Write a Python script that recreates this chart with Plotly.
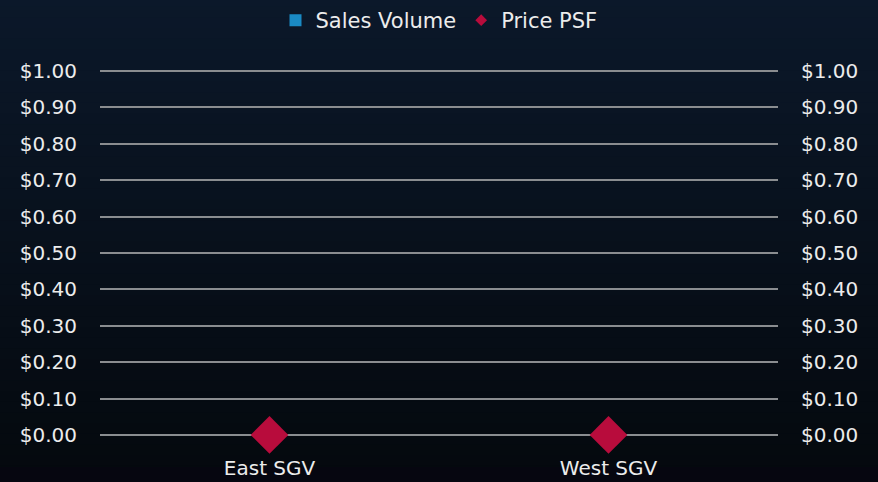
import plotly.graph_objects as go

categories = ["East SGV", "West SGV"]
sales_volume = [0, 0]
price_psf = [0, 0]
tick_vals = [0, 0.1, 0.2, 0.3, 0.4, 0.5, 0.6, 0.7, 0.8, 0.9, 1.0]
tick_text = ["$%.2f" % v for v in tick_vals]

FONT = "DejaVu Sans"
TXT = "#ececec"
RED = "#b80c3c"

fig = go.Figure()
fig.add_trace(go.Bar(x=categories, y=sales_volume, name="Sales Volume",
                     marker=dict(color="#1a8ac4", line=dict(width=0)), yaxis="y"))
fig.add_trace(go.Scatter(x=categories, y=price_psf, name="Price PSF", mode="markers",
                         marker=dict(symbol="diamond", size=29, color=RED),
                         cliponaxis=False, yaxis="y2", showlegend=False))
# legend entry with small diamond
fig.add_trace(go.Scatter(x=[None], y=[None], name="Price PSF", mode="markers",
                         marker=dict(symbol="diamond", size=9, color=RED), yaxis="y2"))

# background gradient via stacked strips
shapes = []
n = 48
top = (11, 24, 42)
bot = (4, 8, 12)
for i in range(n):
    t = i / (n - 1)
    c = tuple(int(round(top[k] + (bot[k] - top[k]) * t)) for k in range(3))
    shapes.append(dict(type="rect", xref="paper", yref="paper", layer="below",
                       x0=-0.2, x1=1.2,
                       y0=1.2 - (i + 1) * (1.4 / n), y1=1.2 - i * (1.4 / n) + 0.002,
                       fillcolor="rgb(%d,%d,%d)" % c, line=dict(width=0)))
shapes.append(dict(type="rect", xref="paper", yref="paper", layer="below",
                   x0=-0.2, x1=1.2, y0=-0.2, y1=-0.085,
                   fillcolor="rgb(6,6,16)", line=dict(width=0)))

EPS = 0.003
fig.update_layout(
    width=878, height=482,
    margin=dict(l=100, r=100, t=70, b=46, autoexpand=False),
    paper_bgcolor="#0b1628",
    plot_bgcolor="rgba(0,0,0,0)",
    font=dict(family=FONT, size=20, color=TXT),
    shapes=shapes,
    showlegend=True,
    legend=dict(orientation="h", x=0.5, xanchor="center", y=1.0, yanchor="top",
                yref="container", font=dict(size=21, color=TXT),
                bgcolor="rgba(0,0,0,0)", itemwidth=30),
    bargap=0.5,
    xaxis=dict(showgrid=False, zeroline=False, showline=False, ticks="", automargin=False,
               ticklabelstandoff=18, tickfont=dict(size=20, color=TXT)),
    yaxis=dict(range=[-EPS, 1 + EPS], tickvals=tick_vals, ticktext=tick_text, automargin=False,
               showgrid=True, gridcolor="#8a8d90", gridwidth=2, zeroline=False,
               ticks="", ticklabelstandoff=22, tickfont=dict(size=20, color=TXT)),
    yaxis2=dict(range=[-EPS, 1 + EPS], tickvals=tick_vals, ticktext=tick_text, overlaying="y",
                side="right", showgrid=False, zeroline=False, ticks="", automargin=False,
                ticklabelstandoff=22, tickfont=dict(size=20, color=TXT)),
)

fig.write_html("out.html", config={"displayModeBar": False},
               post_script="document.body.style.margin='0';document.body.style.padding='0';document.body.style.background='#0b1628';")
